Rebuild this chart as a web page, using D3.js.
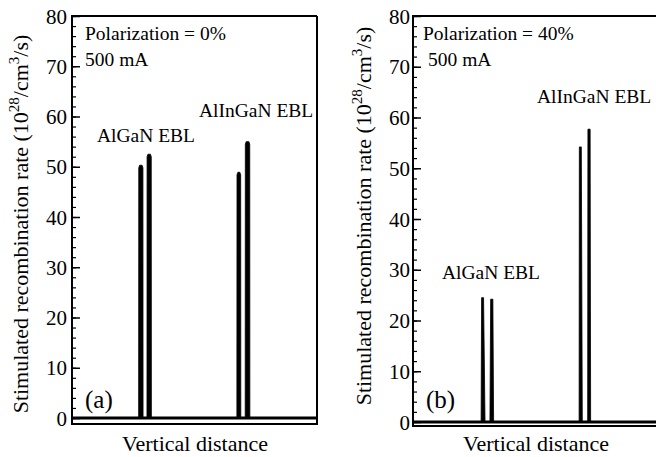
<!DOCTYPE html>
<html lang="en">
<meta charset="UTF-8">
<title>Stimulated recombination rate</title>
<script src="https://d3js.org/d3.v7.min.js"></script>
<style>
body { margin: 0; background: #fff; }
text { font-family: "Liberation Serif", "Times New Roman", serif; fill: #000; }
</style>
<body>
<div id="chart"></div>
<script>
// vertical distance is in arbitrary units (0..100), rate in 1e28 /cm^3/s
var yTicks = [0, 10, 20, 30, 40, 50, 60, 70, 80];

// panel (a): polarization 0%
var profileA = [[0,0],
  [27.2,0],[27.25,49.8],[27.6,50.3],[28.6,50.3],[28.95,49.8],[29.0,0],
  [30.6,0],[30.65,52.0],[31.0,52.5],[32.0,52.5],[32.35,52.0],[32.4,0],
  [67.3,0],[67.35,48.4],[67.7,48.9],[68.5,48.9],[68.85,48.4],[68.9,0],
  [70.7,0],[70.75,54.5],[71.1,55.0],[72.2,55.0],[72.55,54.5],[72.6,0],
  [100,0]];

// panel (b): polarization 40%
var profileB = [[0,0],
  [27.8,0],[28.0,24.5],[28.8,24.5],[29.4,0],
  [31.4,0],[31.7,24.2],[32.6,24.2],[32.9,0],
  [67.8,0],[67.9,54.2],[68.7,54.2],[69.1,0],
  [71.3,0],[71.4,57.7],[72.3,57.7],[72.5,0],
  [100,0]];

var panels = [
  {profile: profileA, left: 72, zero: 418, frameBottom: 424, tag: "(a)", pol: "Polarization = 0%",
   polX: 85, maX: 85, titleY: 224, titleX: 28, pad: 5,
   labels: [{t: "AlGaN EBL", x: 97, y: 142}, {t: "AlInGaN EBL", x: 199, y: 117}]},
  {profile: profileB, left: 413, zero: 422, frameBottom: 426, tag: "(b)", pol: "Polarization = 40%",
   polX: 423, maX: 428, titleY: 216, titleX: 371, pad: 3,
   labels: [{t: "AlGaN EBL", x: 442, y: 279}, {t: "AlInGaN EBL", x: 537, y: 103}]}
];

var W = 656, H = 457, plotW = 245, plotTop = 16;

var svg = d3.select("#chart").append("svg")
  .attr("width", W).attr("height", H);

panels.forEach(function(p) {
  var x = d3.scaleLinear().domain([0, 100]).range([p.left, p.left + plotW]);
  var y = d3.scaleLinear().domain([0, 80]).range([p.zero, plotTop]);
  var g = svg.append("g");

  // minor ticks every 2
  g.append("g")
    .attr("transform", "translate(" + p.left + ",0)")
    .call(d3.axisLeft(y).tickValues(d3.range(0, 81, 2)).tickSize(-4).tickFormat(""))
    .call(function(s) { s.select(".domain").remove(); s.selectAll("line").attr("stroke-width", 1.2); });

  // major ticks and labels
  g.append("g")
    .attr("transform", "translate(" + p.left + ",0)")
    .call(d3.axisLeft(y).tickValues(yTicks).tickSize(-8).tickPadding(p.pad))
    .call(function(s) {
      s.select(".domain").remove();
      s.selectAll("line").attr("stroke-width", 1.5);
      s.selectAll("text").style("font-family", "Liberation Serif").style("font-size", "21px").attr("dy", "0.34em");
    });

  // frame
  g.append("path")
    .attr("d", "M" + (p.left + plotW) + "," + plotTop + "H" + p.left + "V" + p.frameBottom + "H" + (p.left + plotW) + "V" + plotTop)
    .attr("fill", "none").attr("stroke", "#000").attr("stroke-width", 2);

  // zero line
  g.append("line")
    .attr("x1", x(0)).attr("x2", x(100)).attr("y1", y(0)).attr("y2", y(0))
    .attr("stroke", "#000").attr("stroke-width", 3);

  // peaks
  g.append("path")
    .datum(p.profile)
    .attr("d", d3.area().x(function(d) { return x(d[0]); }).y0(y(0)).y1(function(d) { return y(d[1]); }))
    .attr("fill", "#000").attr("stroke", "#000").attr("stroke-width", 0.8)
    .attr("stroke-linejoin", "round");

  // annotations
  g.append("text").attr("x", p.polX).attr("y", 40).style("font-size", "19.5px").text(p.pol);
  g.append("text").attr("x", p.maX).attr("y", 66).style("font-size", "19.5px").text("500 mA");
  g.append("text").attr("x", p.left + 13).attr("y", 408).style("font-size", "25px").text(p.tag);
  p.labels.forEach(function(l) {
    g.append("text").attr("x", l.x).attr("y", l.y).style("font-size", "19.5px").text(l.t);
  });

  // x axis title
  g.append("text")
    .attr("x", p.left + 123).attr("y", 451)
    .attr("text-anchor", "middle").style("font-size", "22px")
    .text("Vertical distance");

  // y axis title
  var yl = g.append("text")
    .attr("transform", "translate(" + p.titleX + "," + p.titleY + ") rotate(-90)")
    .attr("text-anchor", "middle").style("font-size", "22px");
  yl.append("tspan").text("Stimulated recombination rate (10");
  yl.append("tspan").attr("dy", -9).style("font-size", "15px").text("28");
  yl.append("tspan").attr("dy", 9).text("/cm");
  yl.append("tspan").attr("dy", -9).style("font-size", "15px").text("3");
  yl.append("tspan").attr("dy", 9).text("/s)");
});
</script>
</body>
</html>
